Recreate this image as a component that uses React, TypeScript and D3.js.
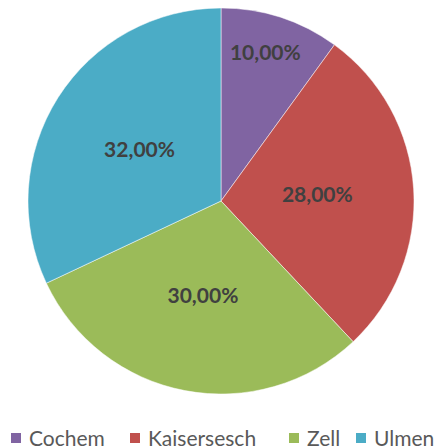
import React from "react";
import * as d3 from "d3";

const categories = ["Cochem", "Kaisersesch", "Zell", "Ulmen"];
const values = [10, 28, 30, 32];
const colors = ["#8064A2", "#C0504D", "#9BBB59", "#4BACC6"];

const width = 438;
const height = 447;
const cx = 221;
const cy = 201;
const radius = 193;

// legend placement
const legendX = [11, 130, 289, 356];

export default function App() {
  const pie = d3.pie<number>().sort(null).value(d => d);
  const arcs = pie(values);
  const arc = d3.arc<d3.PieArcDatum<number>>().innerRadius(0).outerRadius(radius);
  const total = d3.sum(values);
  const fmt = (v: number) => (v / total * 100).toFixed(2).replace(".", ",") + "%";

  return (
    <svg width={width} height={height} style={{ position: "absolute", left: 0, top: 0 }}>
      <rect width={width} height={height} fill="#fff" />
      <g transform={`translate(${cx},${cy})`}>
        {arcs.map((a, i) => (
          <path key={i} d={arc(a) as string} fill={colors[i]} stroke="#fff" strokeWidth={0.5} />
        ))}
        {arcs.map((a, i) => {
          const small = a.endAngle - a.startAngle < 0.8;
          const r = small ? radius * 0.81 : radius * 0.5;
          const la = d3.arc<d3.PieArcDatum<number>>().innerRadius(r).outerRadius(r);
          const [x, y] = la.centroid(a);
          return (
            <text key={i} x={small ? x - 4 : x} y={y} dy="0.35em" textAnchor="middle"
              fontFamily="Lato, 'Open Sans', sans-serif" fontWeight="bold" fontSize={21} fill="#404040">
              {fmt(values[i])}
            </text>
          );
        })}
      </g>
      <g fontFamily="Lato, 'Open Sans', sans-serif" fontSize={21} fill="#595959">
        {categories.map((c, i) => (
          <g key={c}>
            <rect x={legendX[i]} y={433} width={10} height={10} fill={colors[i]} />
            <text x={legendX[i] + 18} y={446}>{c}</text>
          </g>
        ))}
      </g>
    </svg>
  );
}
